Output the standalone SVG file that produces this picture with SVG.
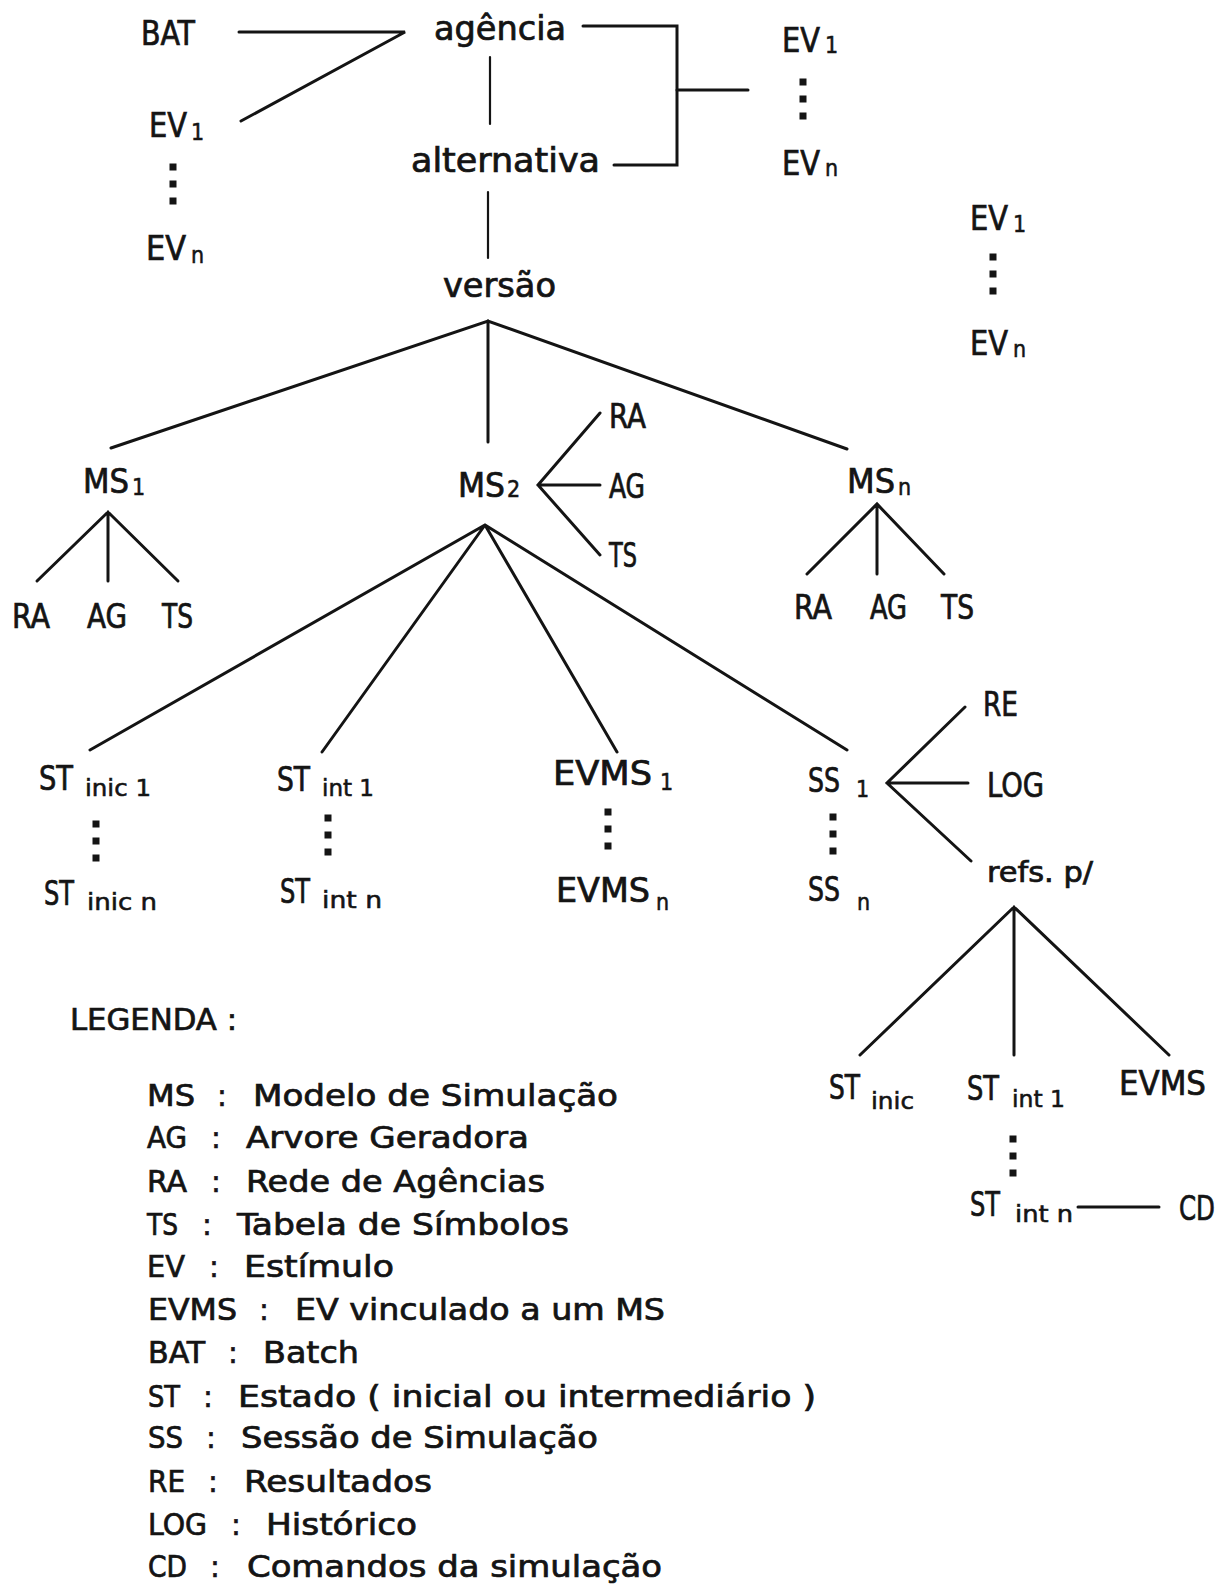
<svg xmlns="http://www.w3.org/2000/svg" width="1222" height="1585" viewBox="0 0 1222 1585">
<style>
text{font-family:"DejaVu Sans Condensed","DejaVu Sans",sans-serif;fill:#141414;stroke:#141414;stroke-width:0.7px}
.m{font-size:33px}
.s{font-size:23px;stroke-width:0.5px}
.r{font-size:29px}
.l{font-size:31px}
.k{text-anchor:middle}
.c{fill:none;stroke:#141414;stroke-width:3;stroke-linecap:round;stroke-linejoin:miter}
.th{stroke-width:2.2}
</style>
<defs>
<g id="vd" fill="#141414"><rect x="-3.5" y="-3.5" width="7" height="7"/><rect x="-3.5" y="13.5" width="7" height="7"/><rect x="-3.5" y="30.5" width="7" height="7"/></g>
</defs>
<rect width="1222" height="1585" fill="#fff"/>

<g id="connectors">
<polyline class="c" points="239,32 405,32 241,121"/>
<line class="c th" x1="490" y1="57" x2="490" y2="124"/>
<polyline class="c" points="583,26 677,26 677,165 614,165"/>
<line class="c" x1="677" y1="90" x2="748" y2="90"/>
<line class="c th" x1="488" y1="192" x2="488" y2="258"/>
<path class="c" d="M111,448 L488,321 L847,449 M488,321 V442"/>
<path class="c" d="M37,581 L108,512 L178,581 M108,512 V581"/>
<path class="c" d="M600,413 L538,485 L600,555 M538,485 H600"/>
<path class="c" d="M807,574 L877,504 L944,574 M877,504 V574"/>
<path class="c" d="M90,750 L485,525 L847,750 M485,525 L322,752 M485,525 L617,752"/>
<path class="c" d="M965,707 L887,783 L971,861 M887,783 H968"/>
<path class="c" d="M860,1055 L1014,907 L1169,1055 M1014,907 V1055"/>
<line class="c" x1="1078" y1="1207" x2="1159" y2="1207"/>
</g>

<g id="bat"><text class="m" x="141" y="45" textLength="54" lengthAdjust="spacingAndGlyphs">BAT</text></g>
<g id="agencia"><text class="m" x="434" y="40" textLength="132" lengthAdjust="spacingAndGlyphs">agência</text></g>
<g id="alternativa"><text class="m" x="411" y="172" textLength="189" lengthAdjust="spacingAndGlyphs">alternativa</text></g>
<g id="versao"><text class="m" x="443" y="297" textLength="113" lengthAdjust="spacingAndGlyphs">versão</text></g>

<g id="ev-left">
<text class="m" x="149" y="137" textLength="38" lengthAdjust="spacingAndGlyphs">EV</text><text class="s" x="191" y="140">1</text>
<use href="#vd" x="173" y="167"/>
<text class="m" x="146" y="260" textLength="40" lengthAdjust="spacingAndGlyphs">EV</text><text class="s" x="191" y="263">n</text>
</g>
<g id="ev-alt">
<text class="m" x="782" y="52" textLength="38" lengthAdjust="spacingAndGlyphs">EV</text><text class="s" x="825" y="53">1</text>
<use href="#vd" x="803" y="82"/>
<text class="m" x="782" y="175" textLength="38" lengthAdjust="spacingAndGlyphs">EV</text><text class="s" x="825" y="176">n</text>
</g>
<g id="ev-right">
<text class="m" x="970" y="230" textLength="38" lengthAdjust="spacingAndGlyphs">EV</text><text class="s" x="1013" y="232">1</text>
<use href="#vd" x="993" y="257"/>
<text class="m" x="970" y="355" textLength="38" lengthAdjust="spacingAndGlyphs">EV</text><text class="s" x="1013" y="357">n</text>
</g>

<g id="ms1">
<text class="m" x="83" y="493" textLength="46" lengthAdjust="spacingAndGlyphs">MS</text><text class="s" x="132" y="495">1</text>
</g>
<g id="ms1-children">
<text class="m" x="12" y="628" textLength="38" lengthAdjust="spacingAndGlyphs">RA</text>
<text class="m" x="87" y="628" textLength="40" lengthAdjust="spacingAndGlyphs">AG</text>
<text class="m" x="162" y="628" textLength="31" lengthAdjust="spacingAndGlyphs">TS</text>
</g>
<g id="ms2">
<text class="m" x="458" y="497" textLength="47" lengthAdjust="spacingAndGlyphs">MS</text><text class="s" x="507" y="497">2</text>
</g>
<g id="ms2-children">
<text class="m" x="609" y="428" textLength="37" lengthAdjust="spacingAndGlyphs">RA</text>
<text class="m" x="609" y="498" textLength="36" lengthAdjust="spacingAndGlyphs">AG</text>
<text class="m" x="609" y="567" textLength="28" lengthAdjust="spacingAndGlyphs">TS</text>
</g>
<g id="msn">
<text class="m" x="847" y="493" textLength="48" lengthAdjust="spacingAndGlyphs">MS</text><text class="s" x="898" y="495">n</text>
</g>
<g id="msn-children">
<text class="m" x="794" y="619" textLength="38" lengthAdjust="spacingAndGlyphs">RA</text>
<text class="m" x="870" y="619" textLength="37" lengthAdjust="spacingAndGlyphs">AG</text>
<text class="m" x="941" y="619" textLength="33" lengthAdjust="spacingAndGlyphs">TS</text>
</g>

<g id="st-inic">
<text class="m" x="39" y="790" textLength="34" lengthAdjust="spacingAndGlyphs">ST</text><text class="s" x="85" y="796" textLength="66" lengthAdjust="spacingAndGlyphs">inic 1</text>
<use href="#vd" x="96" y="824"/>
<text class="m" x="44" y="905" textLength="30" lengthAdjust="spacingAndGlyphs">ST</text><text class="s" x="87" y="910" textLength="70" lengthAdjust="spacingAndGlyphs">inic n</text>
</g>
<g id="st-int">
<text class="m" x="277" y="791" textLength="33" lengthAdjust="spacingAndGlyphs">ST</text><text class="s" x="322" y="796" textLength="52" lengthAdjust="spacingAndGlyphs">int 1</text>
<use href="#vd" x="328" y="818"/>
<text class="m" x="280" y="903" textLength="30" lengthAdjust="spacingAndGlyphs">ST</text><text class="s" x="322" y="908" textLength="60" lengthAdjust="spacingAndGlyphs">int n</text>
</g>
<g id="evms">
<text class="m" x="553" y="785" textLength="99" lengthAdjust="spacingAndGlyphs">EVMS</text><text class="s" x="660" y="790">1</text>
<use href="#vd" x="608" y="812"/>
<text class="m" x="556" y="902" textLength="94" lengthAdjust="spacingAndGlyphs">EVMS</text><text class="s" x="656" y="910">n</text>
</g>
<g id="ss">
<text class="m" x="808" y="792" textLength="32" lengthAdjust="spacingAndGlyphs">SS</text><text class="s" x="856" y="797">1</text>
<use href="#vd" x="833" y="817"/>
<text class="m" x="808" y="901" textLength="32" lengthAdjust="spacingAndGlyphs">SS</text><text class="s" x="857" y="910">n</text>
</g>
<g id="re"><text class="m" x="983" y="716" textLength="35" lengthAdjust="spacingAndGlyphs">RE</text></g>
<g id="log"><text class="m" x="987" y="797" textLength="57" lengthAdjust="spacingAndGlyphs">LOG</text></g>
<g id="refs"><text class="r" x="987" y="882" textLength="106" lengthAdjust="spacingAndGlyphs">refs. p/</text></g>

<g id="refs-st-inic">
<text class="m" x="829" y="1099" textLength="31" lengthAdjust="spacingAndGlyphs">ST</text><text class="s" x="871" y="1109" textLength="43" lengthAdjust="spacingAndGlyphs">inic</text>
</g>
<g id="refs-st-int">
<text class="m" x="967" y="1100" textLength="32" lengthAdjust="spacingAndGlyphs">ST</text><text class="s" x="1012" y="1107" textLength="53" lengthAdjust="spacingAndGlyphs">int 1</text>
<use href="#vd" x="1013" y="1139"/>
<text class="m" x="970" y="1216" textLength="30" lengthAdjust="spacingAndGlyphs">ST</text><text class="s" x="1015" y="1222" textLength="58" lengthAdjust="spacingAndGlyphs">int n</text>
</g>
<g id="refs-evms"><text class="m" x="1119" y="1095" textLength="87" lengthAdjust="spacingAndGlyphs">EVMS</text></g>
<g id="cd"><text class="m" x="1179" y="1220" textLength="36" lengthAdjust="spacingAndGlyphs">CD</text></g>

<g id="legend">
<text class="l" x="70" y="1030" textLength="167" lengthAdjust="spacingAndGlyphs">LEGENDA :</text>
<g><text class="l" x="147" y="1106" textLength="48" lengthAdjust="spacingAndGlyphs">MS</text><text class="l k" x="222" y="1106">:</text><text class="l" x="253" y="1106" textLength="365" lengthAdjust="spacingAndGlyphs">Modelo de Simulação</text></g>
<g><text class="l" x="147" y="1148" textLength="40" lengthAdjust="spacingAndGlyphs">AG</text><text class="l k" x="216" y="1148">:</text><text class="l" x="246" y="1148" textLength="283" lengthAdjust="spacingAndGlyphs">Arvore Geradora</text></g>
<g><text class="l" x="147" y="1192" textLength="40" lengthAdjust="spacingAndGlyphs">RA</text><text class="l k" x="216" y="1192">:</text><text class="l" x="246" y="1192" textLength="299" lengthAdjust="spacingAndGlyphs">Rede de Agências</text></g>
<g><text class="l" x="147" y="1235" textLength="31" lengthAdjust="spacingAndGlyphs">TS</text><text class="l k" x="207" y="1235">:</text><text class="l" x="237" y="1235" textLength="332" lengthAdjust="spacingAndGlyphs">Tabela de Símbolos</text></g>
<g><text class="l" x="147" y="1277" textLength="38" lengthAdjust="spacingAndGlyphs">EV</text><text class="l k" x="214" y="1277">:</text><text class="l" x="244" y="1277" textLength="150" lengthAdjust="spacingAndGlyphs">Estímulo</text></g>
<g><text class="l" x="148" y="1320" textLength="89" lengthAdjust="spacingAndGlyphs">EVMS</text><text class="l k" x="264" y="1320">:</text><text class="l" x="295" y="1320" textLength="370" lengthAdjust="spacingAndGlyphs">EV vinculado a um MS</text></g>
<g><text class="l" x="148" y="1363" textLength="57" lengthAdjust="spacingAndGlyphs">BAT</text><text class="l k" x="233" y="1363">:</text><text class="l" x="263" y="1363" textLength="96" lengthAdjust="spacingAndGlyphs">Batch</text></g>
<g><text class="l" x="148" y="1407" textLength="32" lengthAdjust="spacingAndGlyphs">ST</text><text class="l k" x="208" y="1407">:</text><text class="l" x="238" y="1407" textLength="578" lengthAdjust="spacingAndGlyphs">Estado ( inicial ou intermediário )</text></g>
<g><text class="l" x="148" y="1448" textLength="35" lengthAdjust="spacingAndGlyphs">SS</text><text class="l k" x="211" y="1448">:</text><text class="l" x="241" y="1448" textLength="357" lengthAdjust="spacingAndGlyphs">Sessão de Simulação</text></g>
<g><text class="l" x="148" y="1492" textLength="37" lengthAdjust="spacingAndGlyphs">RE</text><text class="l k" x="213" y="1492">:</text><text class="l" x="244" y="1492" textLength="188" lengthAdjust="spacingAndGlyphs">Resultados</text></g>
<g><text class="l" x="148" y="1535" textLength="59" lengthAdjust="spacingAndGlyphs">LOG</text><text class="l k" x="236" y="1535">:</text><text class="l" x="266" y="1535" textLength="151" lengthAdjust="spacingAndGlyphs">Histórico</text></g>
<g><text class="l" x="148" y="1577" textLength="39" lengthAdjust="spacingAndGlyphs">CD</text><text class="l k" x="215" y="1577">:</text><text class="l" x="247" y="1577" textLength="415" lengthAdjust="spacingAndGlyphs">Comandos da simulação</text></g>
</g>
</svg>
